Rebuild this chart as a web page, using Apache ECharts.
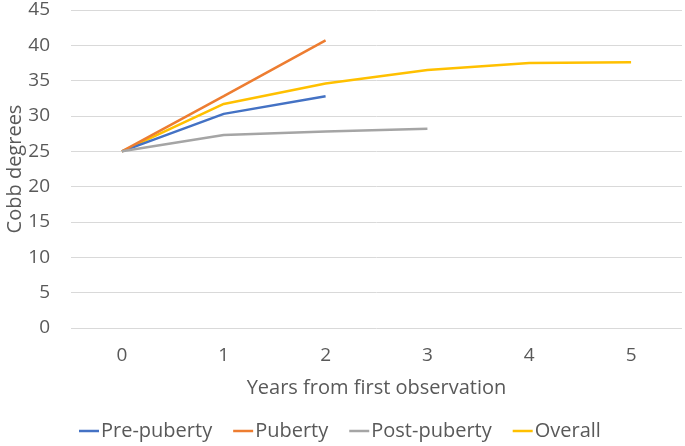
<!DOCTYPE html>
<html>
<head>
<meta charset="utf-8">
<script src="https://cdn.jsdelivr.net/npm/echarts@6/dist/echarts.min.js"></script>
<style>
  html, body { margin: 0; padding: 0; background: #fff; }
  #chart { width: 685px; height: 446px; }
</style>
</head>
<body>
<div id="chart"></div>
<script>
// years since first observation
const years = ['0', '1', '2', '3', '4', '5']

// Cobb angle (degrees) per group
const prePuberty = [25, 30.3, 32.8]
const puberty = [25, 32.8, 40.7]
const postPuberty = [25, 27.3, 27.8, 28.2]
const overall = [25, 31.7, 34.6, 36.5, 37.5, 37.6]

const seriesNames = ['Pre-puberty', 'Puberty', 'Post-puberty', 'Overall']
const seriesColors = ['#4472C4', '#ED7D31', '#A5A5A5', '#FFC000']

const textColor = '#595959'
const fontFamily = 'Open Sans, Liberation Sans, sans-serif'

let chart = echarts.init(document.getElementById('chart'), null, { renderer: 'canvas' })

const makeLine = (name, data, idx) => ({
    name: name,
    type: 'line',
    data: data,
    showSymbol: false,
    symbol: 'none',
    lineStyle: { width: 2.5, color: seriesColors[idx] },
    itemStyle: { color: seriesColors[idx] },
    z: idx == 3 ? 1 : 2,
})

chart.setOption({
    animation: false,
    grid: {
        left: 71,
        right: 3,
        top: 10,
        bottom: 118,
        outerBoundsMode: 'none',
    },
    xAxis: {
        type: 'category',
        data: years,
        boundaryGap: true,
        name: 'Years from first observation',
        nameLocation: 'center',
        nameGap: 50,
        nameTextStyle: { color: textColor, fontSize: 20, fontFamily: fontFamily },
        axisLine: { show: false },
        axisTick: { show: false },
        axisLabel: { color: textColor, fontSize: 19, fontFamily: fontFamily, margin: 18 },
    },
    yAxis: {
        type: 'value',
        min: 0,
        max: 45,
        interval: 5,
        name: 'Cobb degrees',
        nameLocation: 'center',
        nameRotate: 90,
        nameGap: 46,
        nameMoveOverlap: false,
        nameTextStyle: { color: textColor, fontSize: 20, fontFamily: fontFamily },
        axisLine: { show: false },
        axisTick: { show: false },
        axisLabel: { color: textColor, fontSize: 19, fontFamily: fontFamily, margin: 21 },
        splitLine: { lineStyle: { color: '#D9D9D9', width: 1 } },
    },
    legend: {
        bottom: 0,
        left: 74,
        data: seriesNames,
        icon: 'rect',
        itemWidth: 20,
        itemHeight: 2.5,
        itemGap: 21,
        textStyle: { color: textColor, fontSize: 20, fontFamily: fontFamily, padding: [0, 0, 0, -3] },
    },
    series: [
        makeLine(seriesNames[0], prePuberty, 0),
        makeLine(seriesNames[1], puberty, 1),
        makeLine(seriesNames[2], postPuberty, 2),
        makeLine(seriesNames[3], overall, 3),
    ],
})
</script>
</body>
</html>
